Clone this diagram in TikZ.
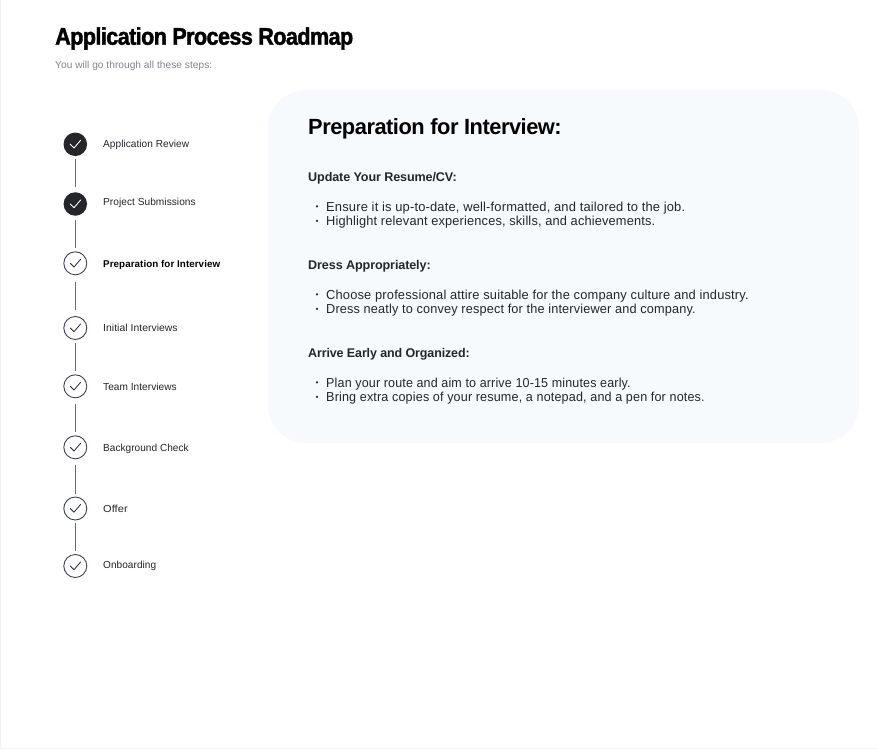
\documentclass[tikz,border=0pt]{standalone}
\usepackage{graphicx}
\usepackage{fontspec}
\setmainfont{Liberation Sans}
\newfontfamily\titlefont[LetterSpace=-2.5,FakeBold=1.6,FakeStretch=0.9]{Liberation Sans Bold}
\newfontfamily\headfont[LetterSpace=-2.2]{Liberation Sans Bold}
\newfontfamily\subfont[LetterSpace=0.4]{Liberation Sans}
\newfontfamily\bodyfont[LetterSpace=1.25]{Liberation Sans}
\newfontfamily\sectfont[LetterSpace=-1]{Liberation Sans Bold}
\newfontfamily\boldfont[LetterSpace=0.7]{Liberation Sans Bold}
\definecolor{ink}{HTML}{25262A}
\definecolor{cardbg}{HTML}{F6FAFD}
\definecolor{ringc}{HTML}{3F4250}
\definecolor{linec}{HTML}{6B6B6B}
\definecolor{subc}{HTML}{80848A}
\definecolor{edgec}{HTML}{F1F1F1}
\newcommand{\fitw}[2]{\resizebox{#1pt}{\height}{#2}}
\tikzset{
 x=1pt,y=-1pt,
 donedot/.style={circle,fill=ink,minimum size=23.5pt,inner sep=0pt},
 opendot/.style={circle,draw=ringc,line width=0.9pt,fill=white,minimum size=23pt,inner sep=0pt},
 steplabel/.style={anchor=west,inner sep=0pt,font=\subfont\fontsize{10.2}{12}\selectfont,text=ink},
 activelabel/.style={anchor=west,inner sep=0pt,font=\boldfont\fontsize{9.8}{12}\selectfont,text=black},
 linkline/.style={draw=linec,line width=0.8pt},
 checkw/.style={draw=white,line width=0.9pt,line cap=round,line join=round},
 checkd/.style={draw=ink,line width=0.8pt,line cap=round,line join=round},
 secthead/.style={anchor=west,inner sep=0pt,font=\sectfont\fontsize{12.6}{15}\selectfont,text=ink},
 bodyline/.style={anchor=west,inner sep=0pt,font=\bodyfont\fontsize{13}{15}\selectfont,text=ink},
 bulletdot/.style={circle,fill=ink,minimum size=2.4pt,inner sep=0pt},
}
\newcommand{\tickw}[1]{\draw[checkw] ([shift={(-5,0)}]#1.center) -- ([shift={(-1.3,3.7)}]#1.center) -- ([shift={(5.3,-4)}]#1.center);}
\newcommand{\tickd}[1]{\draw[checkd] ([shift={(-5,0)}]#1.center) -- ([shift={(-1.3,3.7)}]#1.center) -- ([shift={(5.3,-4)}]#1.center);}
\begin{document}
\begin{tikzpicture}
\useasboundingbox (0,0) rectangle (878,749);
\fill[white] (0,0) rectangle (878,749);
\draw[edgec,line width=1pt] (0.5,0) -- (0.5,748.5) -- (878,748.5);
\fill[cardbg,rounded corners=38pt] (268,90) rectangle (859,443);
\node[anchor=west,inner sep=0pt,font=\titlefont\fontsize{24}{28}\selectfont,text=black] (title) at (55,38.5) {\fitw{298}{Application Process Roadmap}};
\node[anchor=west,inner sep=0pt,font=\subfont\fontsize{10.2}{12}\selectfont,text=subc] (subtitle) at (55,65.5) {\fitw{157}{You will go through all these steps:}};
\node[donedot] (s1) at (75.3,144.3) {};
\node[donedot] (s2) at (75.3,204) {};
\node[opendot] (s3) at (75.3,263.3) {};
\node[opendot] (s4) at (75.3,328) {};
\node[opendot] (s5) at (75.3,386.3) {};
\node[opendot] (s6) at (75.3,447.3) {};
\node[opendot] (s7) at (75.3,508.5) {};
\node[opendot] (s8) at (75.3,566) {};
\foreach \a/\b/\s/\e in {s1/s2/3.1/5.3,s2/s3/4.2/3.3,s3/s4/6.7/6.2,s4/s5/3.3/3.3,s5/s6/5.7/3,s6/s7/5.7/3,s7/s8/2.4/3.3}
  \draw[linkline,shorten <=\s pt,shorten >=\e pt] (\a) -- (\b);
\tickw{s1}\tickw{s2}\tickd{s3}\tickd{s4}\tickd{s5}\tickd{s6}\tickd{s7}\tickd{s8}
\node[steplabel] (l1) at (103,145) {\fitw{86}{Application Review}};
\node[steplabel] (l2) at (103,203) {\fitw{92.5}{Project Submissions}};
\node[activelabel] (l3) at (103,264.7) {\fitw{117}{Preparation for Interview}};
\node[steplabel] (l4) at (103,327.5) {\fitw{74.5}{Initial Interviews}};
\node[steplabel] (l5) at (103,386.5) {\fitw{73.5}{Team Interviews}};
\node[steplabel] (l6) at (103,448.5) {\fitw{85.5}{Background Check}};
\node[steplabel] (l7) at (103,508.5) {\fitw{24.5}{Offer}};
\node[steplabel] (l8) at (103,566) {\fitw{53}{Onboarding}};
\node[anchor=west,inner sep=0pt,font=\headfont\fontsize{22}{26}\selectfont,text=black] (h) at (308,129) {\fitw{253.5}{Preparation for Interview:}};
\node[secthead] (a) at (308,178) {\fitw{148.5}{Update Your Resume/CV:}};
\node[bulletdot] (a1d) at (317,206.4) {};
\node[bodyline] (a1) at (326,208) {\fitw{359}{Ensure it is up-to-date, well-formatted, and tailored to the job.}};
\node[bulletdot] (a2d) at (317,220.9) {};
\node[bodyline] (a2) at (326,222.4) {\fitw{329}{Highlight relevant experiences, skills, and achievements.}};
\node[secthead] (b) at (308,266) {\fitw{122.5}{Dress Appropriately:}};
\node[bulletdot] (b1d) at (317,294.4) {};
\node[bodyline] (b1) at (326,296) {\fitw{422.5}{Choose professional attire suitable for the company culture and industry.}};
\node[bulletdot] (b2d) at (317,308.9) {};
\node[bodyline] (b2) at (326,310.4) {\fitw{369.5}{Dress neatly to convey respect for the interviewer and company.}};
\node[secthead] (c) at (308,354) {\fitw{161.5}{Arrive Early and Organized:}};
\node[bulletdot] (c1d) at (317,382.4) {};
\node[bodyline] (c1) at (326,384) {\fitw{304.5}{Plan your route and aim to arrive 10-15 minutes early.}};
\node[bulletdot] (c2d) at (317,396.9) {};
\node[bodyline] (c2) at (326,398.4) {\fitw{378.5}{Bring extra copies of your resume, a notepad, and a pen for notes.}};
\end{tikzpicture}
\end{document}
